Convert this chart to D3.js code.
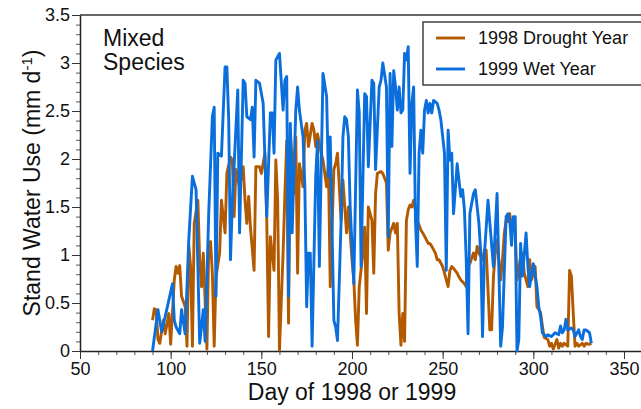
<!DOCTYPE html>
<html>
<head>
<meta charset="utf-8">
<script src="https://cdn.jsdelivr.net/npm/d3@7"></script>
<style>
  body { margin: 0; background: #fff; }
  svg text { font-family: "Liberation Sans", Arial, Helvetica, sans-serif; fill: #111; }
</style>
</head>
<body>
<div id="chart"></div>
<script>
// series: [day of year, stand water use in mm/day]
const drought1998 = [
  [90,0.32],[91,0.44],[92,0.43],[93,0.12],[94,0.08],[96,0.32],[97,0.18],[99,0.39],[100,0.07],
  [102,0.74],[103,0.88],[104,0.81],[105,0.89],[106,0.57],[108,0.46],[109,0.05],[110,1.1],
  [111,0.88],[112,0.05],[113,1.33],[115,1.57],[116,0.95],[117,0.67],[118,1.02],[120,0.02],
  [121,1.1],[122,1.14],[123,0.81],[124,0.05],[125,0.77],[127,1.02],[128,1.57],[130,1.23],
  [131,1.85],[133,2.02],[134,1.99],[135,1.4],[136,1.89],[138,1.71],[140,1.92],[141,1.57],
  [142,1.33],[143,1.61],[144,1.29],[146,0.84],[147,1.92],[149,1.92],[150,1.85],[152,2.06],
  [153,1.36],[154,0.15],[155,1.19],[157,0.84],[158,1.99],[159,1.57],[160,0.01],[162,1.02],
  [163,1.64],[164,2.19],[165,0.29],[166,2.3],[168,1.64],[169,2.23],[170,0.81],[171,1.95],
  [173,1.71],[174,2.3],[175,2.37],[176,2.13],[178,2.37],[179,2.3],[180,2.13],[181,2.26],
  [183,2.06],[184,1.99],[186,1.71],[187,1.95],[188,0.67],[190,1.89],[191,1.95],[192,2.06],
  [194,1.36],[195,1.78],[197,1.23],[198,1.5],[200,0.95],[201,0.74],[202,0.32],[203,0.06],
  [204,0.67],[206,1.02],[207,1.29],[208,0.39],[209,1.5],[211,1.36],[212,0.81],[213,1.64],
  [214,1.85],[216,1.87],[217,1.85],[219,1.75],[220,1.05],[221,1.23],[223,1.33],[224,1.23],
  [225,1.33],[226,0.39],[227,0.06],[228,0.39],[229,0.1],[230,1.36],[231,1.47],[232,1.52],
  [233,1.5],[234,1.57],[235,1.47],[236,1.36],[238,1.26],[239,1.23],[241,1.16],[242,1.12],
  [243,1.12],[244,1.09],[246,1.02],[247,0.95],[248,0.95],[250,0.88],[251,0.81],[253,0.67],
  [254,0.84],[255,0.88],[256,0.86],[258,0.81],[259,0.77],[260,0.74],[262,0.7],[263,0.67],
  [264,0.95],[265,0.91],[267,1.02],[268,0.95],[269,1.09],[270,1.02],[272,0.95],[273,1.05],
  [274,1.05],[276,0.22],[277,0.22],[278,0.77],[279,1.02],[280,1.16],[282,0.74],[283,0.95],
  [284,1.23],[285,1.36],[286,1.35],[287,1.43],[288,1.28],[290,1.25],[291,0.74],[293,0.98],
  [294,1.02],[295,0.81],[297,0.67],[298,0.95],[299,0.74],[301,0.88],[302,0.46],[304,0.4],
  [305,0.26],[306,0.14],[308,0.12],[309,0.05],[310,0.08],[311,0.02],[313,0.12],[314,0.03],
  [315,0.08],[316,0.05],[317,0.08],[319,0.05],[320,0.84],[321,0.78],[322,0.4],[323,0.05],
  [324,0.08],[325,0.05],[327,0.08],[328,0.05],[329,0.08],[331,0.07],[332,0.08]
];

const wet1999 = [
  [90,0],[93,0.43],[95,0.2],[97,0.36],[99,0.53],[101,0.7],[102,0.32],[103,0.25],[105,0.18],
  [106,0.43],[108,0.18],[110,1.16],[112,1.82],[114,1.68],[116,0.08],[118,0.43],[119,0.1],
  [121,1.44],[123,2.44],[124,2.54],[125,0.57],[126,2.06],[128,2.03],[130,2.96],[131,2.96],
  [132,2.41],[133,0.95],[134,1.54],[137,2.72],[138,1.23],[140,2.82],[141,2.79],[142,2.44],
  [144,2.41],[145,2.54],[146,2.02],[147,2.82],[149,2.79],[151,2.58],[153,1.4],[154,1.95],
  [155,2.48],[156,2.48],[157,2.06],[158,3.03],[160,3.1],[162,2.51],[163,2.82],[164,2.86],
  [165,0.57],[166,2.37],[167,1.23],[169,2.51],[170,2.75],[171,2.51],[173,2.23],[174,1.71],
  [175,0.46],[176,1.02],[177,1.02],[178,0.05],[180,1.82],[181,2.19],[182,0.88],[184,2.89],
  [186,2.65],[187,1.82],[188,2.23],[190,0.32],[191,0.25],[192,0.11],[194,1.36],[195,2.23],
  [196,2.44],[197,2.41],[198,2.23],[199,1.5],[201,0.7],[202,1.71],[203,2.72],[204,2.48],
  [205,0.88],[207,2.68],[208,2.65],[209,1.92],[211,2.82],[212,2.79],[213,1.89],[215,2.75],
  [216,2.82],[217,3.0],[219,2.75],[220,1.19],[221,2.89],[222,2.13],[223,2.92],[224,2.75],
  [225,2.51],[226,2.75],[227,2.48],[228,2.51],[229,3.1],[230,3.03],[231,3.17],[232,1.85],
  [233,2.58],[234,2.75],[235,1.36],[236,0.88],[237,2.06],[238,2.3],[239,2.06],[240,2.51],
  [241,2.61],[242,2.48],[243,2.58],[244,2.48],[245,2.61],[247,2.58],[248,2.51],[249,2.41],
  [251,2.06],[252,0.84],[253,2.3],[254,1.99],[255,2.06],[256,1.43],[258,1.95],[259,1.78],
  [260,1.61],[261,1.68],[262,1.47],[263,0.95],[264,0.18],[265,1.43],[267,1.64],[268,1.68],
  [270,1.33],[271,1.02],[272,0.15],[273,1.0],[275,1.57],[278,0.88],[280,1.64],[282,0.05],
  [283,0.25],[285,1.4],[286,1.43],[287,1.36],[288,1.1],[289,1.4],[290,1.4],[291,0],
  [292,0.12],[293,1.12],[294,0.78],[296,1.23],[297,0.88],[298,0.67],[299,0.81],[300,0.91],
  [302,0.67],[303,0.46],[304,0.36],[305,0.19],[307,0.15],[308,0.17],[310,0.15],[311,0.17],
  [312,0.19],[314,0.17],[315,0.26],[316,0.19],[317,0.22],[318,0.33],[319,0.22],[321,0.24],
  [322,0.22],[323,0.15],[325,0.22],[326,0.15],[327,0.12],[328,0.22],[329,0.22],[331,0.19],
  [332,0.08]
];

const seriesNames = ["1998 Drought Year", "1999 Wet Year"];
const seriesColors = ["#b35a00", "#0a6fdc"];
const xTicks = [50, 100, 150, 200, 250, 300, 350];
const yTicks = [0, 0.5, 1, 1.5, 2, 2.5, 3, 3.5];

const W = 641, H = 409;
const margin = { top: 15, right: 0, bottom: 58, left: 80 };

const svg = d3.select("#chart").append("svg")
    .attr("width", W)
    .attr("height", H);

// x runs a bit past 350, the frame is cut at the right edge
const x = d3.scaleLinear().domain([50, 360]).range([margin.left, margin.left + 310 * 1.8133]);
const y = d3.scaleLinear().domain([0, 3.5]).range([H - margin.bottom, margin.top]);

// frame: top line only (no right border visible)
svg.append("line")
    .attr("x1", margin.left).attr("x2", W)
    .attr("y1", y(3.5)).attr("y2", y(3.5))
    .attr("stroke", "#333").attr("stroke-width", 1.3);

// minor ticks
svg.append("g")
    .attr("transform", `translate(0,${y(0)})`)
    .call(d3.axisBottom(x).tickValues(d3.range(50, 361, 10)).tickSize(4).tickFormat(""))
    .call(g => g.select(".domain").remove())
    .call(g => g.selectAll("line").attr("stroke", "#555"));

svg.append("g")
    .attr("transform", `translate(${margin.left},0)`)
    .call(d3.axisLeft(y).tickValues(d3.range(0, 35.1, 1).map(v => v / 10)).tickSize(4).tickFormat(""))
    .call(g => g.select(".domain").remove())
    .call(g => g.selectAll("line").attr("stroke", "#555"));

// major axes
const xAxis = svg.append("g")
    .attr("transform", `translate(0,${y(0)})`)
    .call(d3.axisBottom(x).tickValues(xTicks).tickSize(8).tickSizeOuter(0).tickPadding(3));

const yAxis = svg.append("g")
    .attr("transform", `translate(${margin.left},0)`)
    .call(d3.axisLeft(y).tickValues(yTicks).tickSize(8).tickSizeOuter(0).tickPadding(2)
      .tickFormat(d => d3.format("")(d)));

[xAxis, yAxis].forEach(g => {
  g.select(".domain").attr("stroke", "#222").attr("stroke-width", 1.5);
  g.selectAll(".tick line").attr("stroke", "#333");
  g.selectAll(".tick text")
      .attr("fill", "#111")
      .style("font-size", "18px")
      .style("font-family", "'Liberation Sans', Arial, sans-serif");
});

// lines
const line = d3.line()
    .x(d => x(d[0]))
    .y(d => y(d[1]));

svg.selectAll(".series")
  .data([drought1998, wet1999])
  .enter().append("path")
    .attr("class", "series")
    .attr("d", d => line(d))
    .attr("fill", "none")
    .attr("stroke", (d, i) => seriesColors[i])
    .attr("stroke-width", 2.9)
    .attr("stroke-linejoin", "round");

// x title
svg.append("text")
    .attr("x", (x(50) + x(350)) / 2)
    .attr("y", 400)
    .attr("text-anchor", "middle")
    .style("font-size", "23px")
    .text("Day of 1998 or 1999");

// y title with superscript
const yTitle = svg.append("text")
    .attr("transform", `translate(40,${(y(0) + y(3.5)) / 2}) rotate(-90)`)
    .attr("text-anchor", "middle")
    .style("font-size", "23px");
yTitle.append("tspan").text("Stand Water Use (mm d");
yTitle.append("tspan").attr("dy", -8).style("font-size", "15px").text("-1");
yTitle.append("tspan").attr("dy", 8).text(")");

// panel label
const label = svg.append("text")
    .attr("x", 103)
    .attr("y", 46)
    .style("font-size", "23px");
label.append("tspan").attr("x", 103).text("Mixed");
label.append("tspan").attr("x", 103).attr("dy", 24).text("Species");

// legend
const legend = svg.append("g").attr("transform", "translate(423,22)");
legend.append("rect")
    .attr("width", 230).attr("height", 63)
    .attr("fill", "#fff")
    .attr("stroke", "#333").attr("stroke-width", 1.4);

seriesNames.forEach((name, i) => {
  const row = legend.append("g").attr("transform", `translate(0,${16 + i * 31})`);
  row.append("line")
      .attr("x1", 13).attr("x2", 42)
      .attr("stroke", seriesColors[i]).attr("stroke-width", 2.9);
  row.append("text")
      .attr("x", 55).attr("y", 6)
      .style("font-size", "18px")
      .text(name);
});
</script>
</body>
</html>
